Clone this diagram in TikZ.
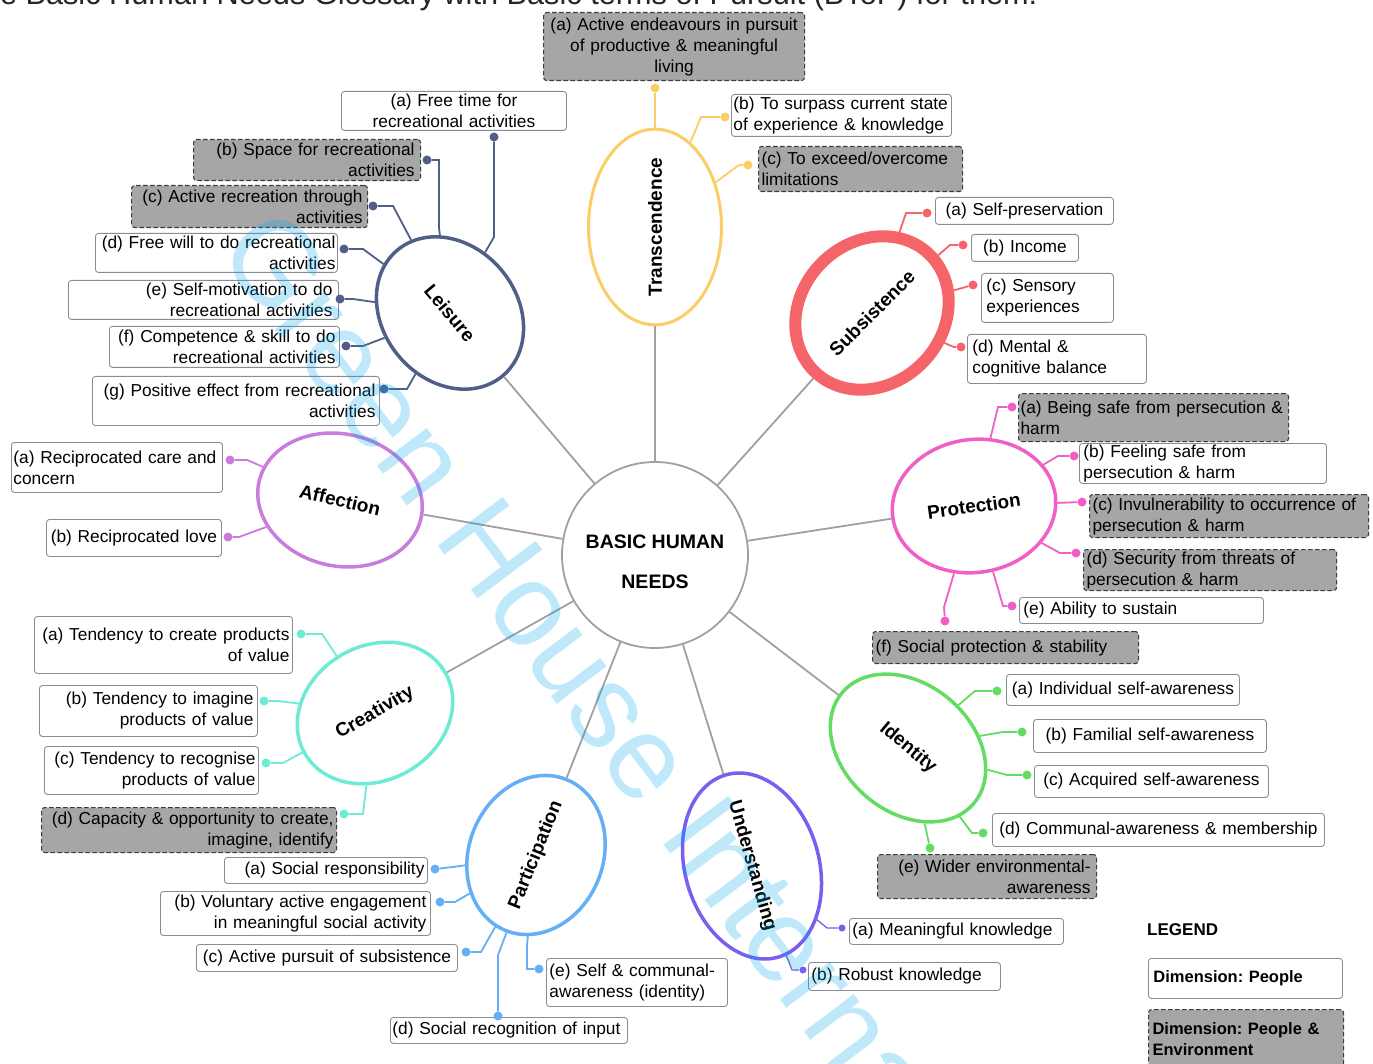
\documentclass[tikz,border=0pt]{standalone}
\usepackage{fontspec}
\setmainfont{Liberation Sans}
\usetikzlibrary{shapes.geometric}
\frenchspacing

\definecolor{tcol}{RGB}{250,206,100}
\definecolor{lcol}{RGB}{80,95,135}
\definecolor{scol}{RGB}{245,100,105}
\definecolor{pcol}{RGB}{240,95,200}
\definecolor{icol}{RGB}{100,220,100}
\definecolor{ucol}{RGB}{120,95,240}
\definecolor{qcol}{RGB}{100,175,245}
\definecolor{ccol}{RGB}{110,235,215}
\definecolor{acol}{RGB}{200,125,220}
\definecolor{boxline}{RGB}{135,140,150}
\definecolor{envfill}{RGB}{166,166,166}
\definecolor{envline}{RGB}{60,60,60}
\definecolor{spokecol}{RGB}{160,160,160}
\definecolor{markcol}{RGB}{0,165,235}

\newcommand\lblfont{\fontsize{17.3}{21}\selectfont\hyphenpenalty=10000 }
\newcommand\dimfont{\fontsize{19}{22}\selectfont\bfseries}

\begin{document}
\begin{tikzpicture}[x=1pt,y=-1pt,
  item/.style={draw=boxline, fill=white, line width=0.9pt, rounded corners=3pt,
    anchor=north west, inner sep=0pt, font=\lblfont},
  envitem/.style={item, fill=envfill, draw=envline, dash pattern=on 4.5pt off 2.5pt, line width=1.1pt},
  dim/.style={ellipse, draw, fill=white, line width=3.5pt, inner sep=0pt, font=\dimfont},
  dot/.style={circle, inner sep=0pt, minimum size=9pt},
  conn/.style={line width=1.8pt},
  spoke/.style={draw=spokecol, line width=1.8pt}]

\useasboundingbox (0,0) rectangle (1373,1064);

% page heading, cut by the top edge
\begin{scope}
\clip (0,0) rectangle (1373,1064);
\node[anchor=base west, inner sep=0pt, font=\fontsize{30.7}{34}\selectfont, text=black!85] (heading) at (-36,5)
  {The Basic Human Needs Glossary with Basic terms of Pursuit (BToP) for them.};
\end{scope}

% ---------- hub ----------
\node[circle, draw=spokecol, line width=1.8pt, fill=white, minimum size=186pt, inner sep=0pt] (hub) at (655,555) {};
\node[align=center, inner sep=0pt, font=\fontsize{19.5}{40.5}\selectfont\bfseries] (hubtext) at (655,562) {BASIC HUMAN\\NEEDS};

% ---------- dimensions ----------
\node[dim, draw=tcol, line width=3pt, minimum width=167pt, minimum height=133pt, rotate=90] (trans) at (655,227) {Transcendence};
\node[dim, draw=lcol, minimum width=164pt, minimum height=134pt, rotate=-50] (leisure) at (450,313) {Leisure};
\node[dim, draw=scol, line width=12pt, minimum width=164pt, minimum height=142pt, rotate=45] (subs) at (872,313) {Subsistence};
\node[dim, draw=pcol, minimum width=164pt, minimum height=133pt, rotate=8] (prot) at (974,506) {Protection};
\node[dim, draw=icol, minimum width=172pt, minimum height=128pt, rotate=-40] (ident) at (908,748) {Identity};
\node[dim, draw=ucol, minimum width=162pt, minimum height=134pt, rotate=-74] (under) at (752,866) {Understanding};
\node[dim, draw=qcol, minimum width=160pt, minimum height=134pt, rotate=68] (partic) at (536,855) {Participation};
\node[dim, draw=ccol, minimum width=162pt, minimum height=134pt, rotate=30] (creat) at (375,713) {Creativity};
\node[dim, draw=acol, minimum width=166pt, minimum height=132pt, rotate=-13] (affect) at (340,500) {Affection};

\foreach \d in {trans,leisure,subs,prot,ident,under,partic,creat,affect}
  \draw[spoke] (hub) -- (\d);

% ---------- Transcendence ----------
\node[envitem, minimum width=261pt, minimum height=68pt, text width=255pt, align=center] (ta) at (543,12)
  {(a) Active endeavours in pursuit\\of productive \& meaningful\\living};
\node[item, minimum width=220pt, minimum height=42pt, text width=216pt, align=left] (tb) at (731,94)
  {(b) To surpass current state\\of experience \& knowledge};
\node[envitem, minimum width=204pt, minimum height=45pt, text width=198pt, align=left] (tc) at (758,146)
  {(c) To exceed/overcome\\limitations};
\node[dot, fill=tcol] (ta-d) at (655,88) {};
\node[dot, fill=tcol] (tb-d) at (725,117) {};
\node[dot, fill=tcol] (tc-d) at (748,165) {};
\draw[conn, tcol] (ta-d) -- (trans);
\draw[conn, tcol] (tb-d) -- (701,117) -- (trans);
\draw[conn, tcol] (tc-d) -- (739,165) -- (trans);

% ---------- Leisure ----------
\node[item, minimum width=225pt, minimum height=39pt, text width=215pt, align=center] (la) at (341,91)
  {(a) Free time for\\recreational activities};
\node[envitem, minimum width=227pt, minimum height=41pt, text width=215pt, align=right] (lb) at (193,139)
  {(b) Space for recreational\\activities};
\node[envitem, minimum width=236pt, minimum height=42pt, text width=226pt, align=right] (lc) at (131,185)
  {(c) Active recreation through\\activities};
\node[item, minimum width=242pt, minimum height=39pt, text width=238pt, align=right] (ld) at (95,233)
  {(d) Free will to do recreational\\activities};
\node[item, minimum width=270pt, minimum height=39pt, text width=258pt, align=right] (le) at (68,280)
  {(e) Self-motivation to do\hspace*{55pt}\\recreational activities\hspace*{55pt}};
\node[item, minimum width=230pt, minimum height=41pt, text width=222pt, align=right] (lf) at (109,326)
  {(f) Competence \& skill to do\\recreational activities};
\node[item, minimum width=287pt, minimum height=49pt, text width=279pt, align=right] (lg) at (92,376)
  {(g) Positive effect from recreational\\activities};
\node[dot, fill=lcol] (la-d) at (494,137) {};
\node[dot, fill=lcol] (lb-d) at (427,160) {};
\node[dot, fill=lcol] (lc-d) at (373,206) {};
\node[dot, fill=lcol] (ld-d) at (344,249) {};
\node[dot, fill=lcol] (le-d) at (340,299) {};
\node[dot, fill=lcol] (lf-d) at (346,346) {};
\node[dot, fill=lcol] (lg-d) at (384,389) {};
\draw[conn, lcol] (la-d) -- (494,237) -- (leisure);
\draw[conn, lcol] (lb-d) -- (439,160) -- (439,228) -- (leisure);
\draw[conn, lcol] (lc-d) -- (393,206) -- (leisure);
\draw[conn, lcol] (ld-d) -- (363,249) -- (leisure);
\draw[conn, lcol] (le-d) -- (353,299) -- (leisure);
\draw[conn, lcol] (lf-d) -- (363,346) -- (leisure);
\draw[conn, lcol] (lg-d) -- (407,389) -- (leisure);

% ---------- Subsistence ----------
\node[item, minimum width=178pt, minimum height=27pt, text width=170pt, align=center] (sa) at (935,197)
  {(a) Self-preservation};
\node[item, minimum width=107pt, minimum height=27pt, text width=99pt, align=center] (sb) at (971,234)
  {(b) Income};
\node[item, minimum width=132pt, minimum height=49pt, text width=122pt, align=left] (sc) at (981,273)
  {(c) Sensory\\experiences};
\node[item, minimum width=179pt, minimum height=49pt, text width=169pt, align=left] (sd) at (967,334)
  {(d) Mental \&\\cognitive balance};
\node[dot, fill=scol] (sa-d) at (927,213) {};
\node[dot, fill=scol] (sb-d) at (963,245) {};
\node[dot, fill=scol] (sc-d) at (973,285) {};
\node[dot, fill=scol] (sd-d) at (961,347) {};
\draw[conn, scol] (sa-d) -- (906,213) -- (subs);
\draw[conn, scol] (sb-d) -- (950,245) -- (subs);
\draw[conn, scol] (sc-d) -- (subs);
\draw[conn, scol] (sd-d) -- (954,347) -- (subs);

% ---------- Protection ----------
\node[envitem, minimum width=270pt, minimum height=48pt, text width=266pt, align=left] (pa) at (1018,393)
  {(a) Being safe from persecution \&\\harm};
\node[item, minimum width=247pt, minimum height=40pt, text width=239pt, align=left] (pb) at (1079,443)
  {(b) Feeling safe from\\persecution \& harm};
\node[envitem, minimum width=279pt, minimum height=43pt, text width=273pt, align=left] (pc) at (1089,494)
  {(c) Invulnerability to occurrence of\\persecution \& harm};
\node[envitem, minimum width=253pt, minimum height=41pt, text width=247pt, align=left] (pd) at (1083,549)
  {(d) Security from threats of\\persecution \& harm};
\node[item, minimum width=244pt, minimum height=26pt, text width=236pt, align=left] (pe) at (1019,597)
  {(e) Ability to sustain};
\node[envitem, minimum width=266pt, minimum height=32pt, text width=260pt, align=left] (pf) at (872,631)
  {(f) Social protection \& stability};
\node[dot, fill=pcol] (pa-d) at (1012,407) {};
\node[dot, fill=pcol] (pb-d) at (1074,456) {};
\node[dot, fill=pcol] (pc-d) at (1082,502) {};
\node[dot, fill=pcol] (pd-d) at (1076,553) {};
\node[dot, fill=pcol] (pe-d) at (1012,606) {};
\node[dot, fill=pcol] (pf-d) at (945,621) {};
\draw[conn, pcol] (pa-d) -- (998,407) -- (prot);
\draw[conn, pcol] (pb-d) -- (1058,456) -- (prot);
\draw[conn, pcol] (pc-d) -- (prot);
\draw[conn, pcol] (pd-d) -- (1060,553) -- (prot);
\draw[conn, pcol] (pe-d) -- (1003,606) -- (prot);
\draw[conn, pcol] (pf-d) -- (944,607) -- (prot);

% ---------- Identity ----------
\node[item, minimum width=233pt, minimum height=31pt, text width=229pt, align=center] (ia) at (1006,674)
  {(a) Individual self-awareness};
\node[item, minimum width=233pt, minimum height=33pt, text width=229pt, align=center] (ib) at (1033,719)
  {(b) Familial self-awareness};
\node[item, minimum width=234pt, minimum height=32pt, text width=230pt, align=center] (ic) at (1034,765)
  {(c) Acquired self-awareness};
\node[item, minimum width=332pt, minimum height=33pt, text width=328pt, align=center] (id) at (992,813)
  {(d) Communal-awareness \& membership};
\node[envitem, minimum width=219pt, minimum height=44pt, text width=207pt, align=right] (ie) at (877,854)
  {(e) Wider environmental-\hspace*{12pt}\\awareness\hspace*{12pt}};
\node[dot, fill=icol] (ia-d) at (997,691) {};
\node[dot, fill=icol] (ib-d) at (1022,732) {};
\node[dot, fill=icol] (ic-d) at (1027,775) {};
\node[dot, fill=icol] (id-d) at (983,833) {};
\node[dot, fill=icol] (ie-d) at (930,848) {};
\draw[conn, icol] (ia-d) -- (975,691) -- (ident);
\draw[conn, icol] (ib-d) -- (1003,732) -- (ident);
\draw[conn, icol] (ic-d) -- (1007,775) -- (ident);
\draw[conn, icol] (id-d) -- (972,833) -- (ident);
\draw[conn, icol] (ie-d) -- (ident);

% ---------- Understanding ----------
\node[item, minimum width=214pt, minimum height=26pt, text width=208pt, align=left] (ua) at (849,918)
  {(a) Meaningful knowledge};
\node[item, minimum width=192pt, minimum height=28pt, text width=186pt, align=left] (ub) at (808,962)
  {(b) Robust knowledge};
\node[dot, fill=ucol, minimum size=7pt] (ua-d) at (842,928) {};
\node[dot, fill=ucol, minimum size=7pt] (ub-d) at (803,970) {};
\draw[line width=1.3pt, ucol] (ua-d) -- (827,928) -- (under);
\draw[line width=1.3pt, ucol] (ub-d) -- (792,970) -- (under);

% ---------- Participation ----------
\node[item, minimum width=203pt, minimum height=26pt, text width=197pt, align=right] (qa) at (224,857)
  {(a) Social responsibility};
\node[item, minimum width=270pt, minimum height=44pt, text width=262pt, align=right] (qb) at (160,891)
  {(b) Voluntary active engagement\\in meaningful social activity};
\node[item, minimum width=261pt, minimum height=27pt, text width=257pt, align=center] (qc) at (196,944)
  {(c) Active pursuit of subsistence};
\node[item, minimum width=237pt, minimum height=26pt, text width=233pt, align=left] (qd) at (390,1017)
  {(d) Social recognition of input};
\node[item, minimum width=181pt, minimum height=48pt, text width=175pt, align=left] (qe) at (546,958)
  {(e) Self \& communal-\\awareness (identity)};
\node[dot, fill=qcol] (qa-d) at (435,869) {};
\node[dot, fill=qcol] (qb-d) at (440,902) {};
\node[dot, fill=qcol] (qc-d) at (466,952) {};
\node[dot, fill=qcol] (qd-d) at (498,1016) {};
\node[dot, fill=qcol] (qe-d) at (539,969) {};
\draw[conn, qcol] (qa-d) -- (453,867) -- (partic);
\draw[conn, qcol] (qb-d) -- (455,902) -- (partic);
\draw[conn, qcol] (qc-d) -- (481,952) -- (partic);
\draw[conn, qcol] (qd-d) -- (498,955) -- (partic);
\draw[conn, qcol] (qe-d) -- (527,969) -- (527,945) -- (partic);

% ---------- Creativity ----------
\node[item, minimum width=258pt, minimum height=57pt, text width=252pt, align=right] (ca) at (34,616)
  {(a) Tendency to create products\\of value};
\node[item, minimum width=218pt, minimum height=51pt, text width=210pt, align=right] (cb) at (39,685)
  {(b) Tendency to imagine\hspace*{19pt}\\products of value\hspace*{19pt}};
\node[item, minimum width=214pt, minimum height=48pt, text width=208pt, align=right] (cc) at (44,746)
  {(c) Tendency to recognise\\products of value};
\node[envitem, minimum width=295pt, minimum height=45pt, text width=289pt, align=right] (cd) at (41,807)
  {(d) Capacity \& opportunity to create,\\imagine, identify};
\node[dot, fill=ccol] (ca-d) at (301,634) {};
\node[dot, fill=ccol] (cb-d) at (264,701) {};
\node[dot, fill=ccol] (cc-d) at (266,763) {};
\node[dot, fill=ccol] (cd-d) at (344,814) {};
\draw[conn, ccol] (ca-d) -- (322,634) -- (creat);
\draw[conn, ccol] (cb-d) -- (278,701) -- (creat);
\draw[conn, ccol] (cc-d) -- (283,763) -- (creat);
\draw[conn, ccol] (cd-d) -- (363,814) -- (creat);

% ---------- Affection ----------
\node[item, minimum width=211pt, minimum height=50pt, text width=207pt, align=left] (aa) at (11,442)
  {(a) Reciprocated care and\\concern};
\node[item, minimum width=175pt, minimum height=37pt, text width=169pt, align=center] (ab) at (46,519)
  {(b) Reciprocated love};
\node[dot, fill=acol] (aa-d) at (230,460) {};
\node[dot, fill=acol] (ab-d) at (228,537) {};
\draw[conn, acol] (aa-d) -- (247,460) -- (affect);
\draw[conn, acol] (ab-d) -- (239,537) -- (affect);

% ---------- legend ----------
\node[anchor=base west, inner sep=0pt, font=\fontsize{17}{20}\selectfont\bfseries] (legend) at (1147,935) {LEGEND};
\node[item, minimum width=194pt, minimum height=40pt, text width=184pt, align=left,
  font=\fontsize{16.5}{21}\selectfont\bfseries] (key1) at (1148,958) {Dimension: People};
\node[envitem, minimum width=195pt, minimum height=60pt, text width=187pt, align=left,
  font=\fontsize{16.5}{21}\selectfont\bfseries] (key2) at (1148,1009) {Dimension: People \&\\Environment};

% ---------- watermark ----------
\node[anchor=base west, inner sep=0pt, rotate=-53, text=markcol, opacity=0.25,
  font=\fontsize{118}{118}\selectfont] (mark) at (215,250) {Green House International};

\end{tikzpicture}
\end{document}
